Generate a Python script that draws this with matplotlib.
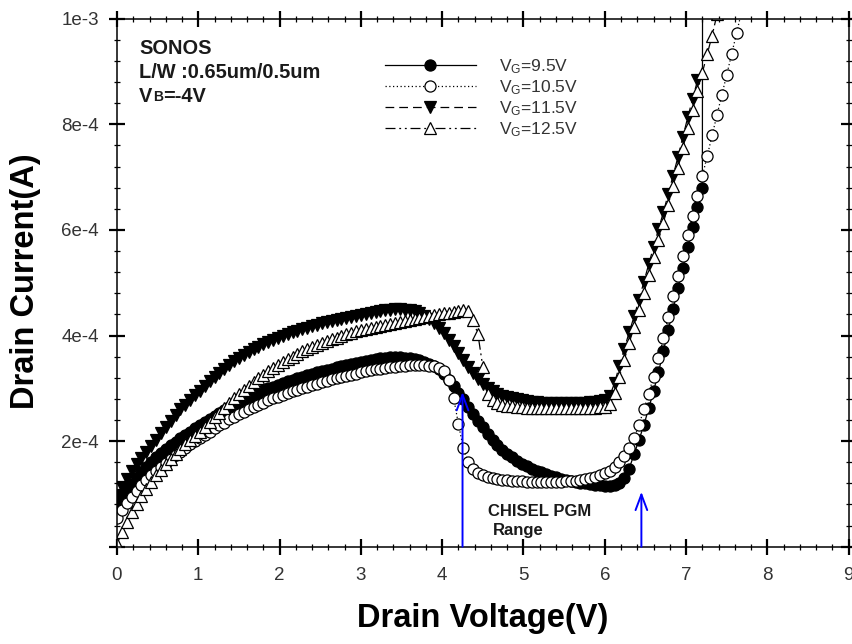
import numpy as np
import matplotlib
matplotlib.use('Agg')
import matplotlib.pyplot as plt
from matplotlib.ticker import MultipleLocator

plt.rcParams['font.family'] = ['Liberation Sans', 'DejaVu Sans']
plt.rcParams['mathtext.default'] = 'regular'

# drain sweep step (V); currents below are in units of 1e-4 A
VD_STEP = 0.06

id_vg95 = [0.78, 0.92, 1.05, 1.18, 1.30, 1.41, 1.51, 1.60, 1.69, 1.77,
           1.85, 1.92, 1.99, 2.06, 2.12, 2.18, 2.24, 2.30, 2.36, 2.42,
           2.47, 2.53, 2.58, 2.64, 2.69, 2.74, 2.79, 2.84, 2.88, 2.92,
           2.96, 3.00, 3.03, 3.07, 3.10, 3.13, 3.16, 3.19, 3.22, 3.25,
           3.28, 3.30, 3.33, 3.35, 3.37, 3.40, 3.42, 3.44, 3.46, 3.48,
           3.50, 3.52, 3.54, 3.56, 3.57, 3.58, 3.59, 3.59, 3.59, 3.58,
           3.57, 3.55, 3.53, 3.50, 3.46, 3.42, 3.36, 3.27, 3.16, 3.04,
           2.92, 2.79, 2.65, 2.52, 2.39, 2.26, 2.14, 2.03, 1.93, 1.84,
           1.76, 1.69, 1.63, 1.57, 1.53, 1.48, 1.44, 1.41, 1.37, 1.34,
           1.32, 1.29, 1.27, 1.25, 1.23, 1.21, 1.20, 1.18, 1.17, 1.16,
           1.15, 1.15, 1.16, 1.20, 1.30, 1.48, 1.75, 2.02, 2.30, 2.62,
           2.95, 3.30, 3.70, 4.10, 4.50, 4.90, 5.28, 5.67, 6.05, 6.43,
           6.80, 100.0]

id_vg105 = [0.55, 0.69, 0.82, 0.95, 1.06, 1.16, 1.26, 1.35, 1.43, 1.51,
            1.59, 1.66, 1.73, 1.80, 1.87, 1.94, 2.00, 2.06, 2.12, 2.18,
            2.24, 2.30, 2.35, 2.41, 2.46, 2.51, 2.56, 2.61, 2.65, 2.69,
            2.73, 2.77, 2.81, 2.84, 2.88, 2.91, 2.94, 2.97, 3.00, 3.03,
            3.06, 3.09, 3.12, 3.14, 3.17, 3.19, 3.22, 3.24, 3.26, 3.28,
            3.30, 3.32, 3.34, 3.36, 3.37, 3.39, 3.40, 3.41, 3.42, 3.43,
            3.44, 3.44, 3.44, 3.44, 3.43, 3.42, 3.39, 3.32, 3.15, 2.82,
            2.32, 1.86, 1.60, 1.47, 1.40, 1.35, 1.32, 1.30, 1.28, 1.27,
            1.26, 1.25, 1.24, 1.24, 1.23, 1.23, 1.23, 1.23, 1.23, 1.23,
            1.23, 1.23, 1.24, 1.24, 1.25, 1.26, 1.28, 1.30, 1.32, 1.35,
            1.39, 1.44, 1.51, 1.60, 1.72, 1.87, 2.05, 2.30, 2.60, 2.90,
            3.22, 3.57, 3.95, 4.35, 4.75, 5.13, 5.51, 5.90, 6.26, 6.64,
            7.02, 7.40, 7.79, 8.18, 8.56, 8.94, 9.33, 9.72, 10.12]

id_vg115 = [0.98, 1.14, 1.29, 1.43, 1.56, 1.68, 1.80, 1.91, 2.03, 2.15,
            2.27, 2.39, 2.50, 2.60, 2.69, 2.78, 2.87, 2.95, 3.04, 3.13,
            3.21, 3.29, 3.37, 3.44, 3.51, 3.57, 3.63, 3.69, 3.74, 3.79,
            3.84, 3.88, 3.92, 3.96, 4.00, 4.03, 4.06, 4.09, 4.12, 4.15,
            4.18, 4.20, 4.23, 4.25, 4.27, 4.29, 4.31, 4.33, 4.35, 4.37,
            4.39, 4.41, 4.43, 4.45, 4.47, 4.48, 4.49, 4.50, 4.50, 4.49,
            4.48, 4.46, 4.42, 4.37, 4.31, 4.23, 4.14, 4.04, 3.92, 3.80,
            3.67, 3.54, 3.41, 3.29, 3.18, 3.09, 3.01, 2.95, 2.90, 2.86,
            2.83, 2.81, 2.79, 2.77, 2.76, 2.75, 2.74, 2.73, 2.73, 2.72,
            2.72, 2.72, 2.72, 2.72, 2.72, 2.73, 2.73, 2.74, 2.75, 2.76,
            2.78, 2.85, 3.10, 3.43, 3.75, 4.06, 4.36, 4.68, 5.01, 5.35,
            5.68, 6.01, 6.33, 6.68, 7.03, 7.38, 7.76, 8.13, 8.48, 8.83]

id_vg125 = [0.05, 0.27, 0.47, 0.65, 0.81, 0.96, 1.10, 1.23, 1.35, 1.46,
            1.57, 1.67, 1.76, 1.85, 1.94, 2.02, 2.10, 2.18, 2.27, 2.36,
            2.45, 2.54, 2.63, 2.72, 2.81, 2.89, 2.97, 3.05, 3.12, 3.19,
            3.26, 3.32, 3.38, 3.44, 3.50, 3.55, 3.60, 3.65, 3.70, 3.74,
            3.78, 3.82, 3.86, 3.90, 3.93, 3.96, 3.99, 4.02, 4.05, 4.08,
            4.10, 4.12, 4.14, 4.16, 4.18, 4.20, 4.22, 4.24, 4.26, 4.28,
            4.30, 4.31, 4.33, 4.35, 4.37, 4.39, 4.41, 4.42, 4.43, 4.45,
            4.47, 4.49, 4.46, 4.30, 4.02, 3.40, 2.90, 2.78, 2.72, 2.69,
            2.67, 2.66, 2.65, 2.64, 2.63, 2.63, 2.62, 2.62, 2.62, 2.62,
            2.62, 2.62, 2.62, 2.62, 2.62, 2.62, 2.62, 2.63, 2.63, 2.64,
            2.65, 2.70, 2.92, 3.22, 3.54, 3.86, 4.16, 4.48, 4.81, 5.15,
            5.48, 5.81, 6.13, 6.48, 6.83, 7.18, 7.56, 7.93, 8.28, 8.63,
            8.98, 9.33, 9.68, 10.08]

gate_labels = ['V$_G$=9.5V', 'V$_G$=10.5V', 'V$_G$=11.5V', 'V$_G$=12.5V']

volt_ticks = [0, 1, 2, 3, 4, 5, 6, 7, 8, 9]
current_ticks = [0, 2e-4, 4e-4, 6e-4, 8e-4, 1e-3]
current_tick_labels = ['', '2e-4', '4e-4', '6e-4', '8e-4', '1e-3']

curve_styles = [
    dict(ls='-', marker='o', mfc='black', ms=8.0),
    dict(ls=(0, (1, 2)), marker='o', mfc='white', ms=8.0),
    dict(ls=(0, (7, 4)), marker='v', mfc='black', ms=9.0),
    dict(ls=(0, (8, 3, 1.5, 3, 1.5, 3)), marker='^', mfc='white', ms=9.0),
]

fig = plt.figure(figsize=(8.53, 6.44), dpi=100)
ax = fig.add_axes([117 / 853, 97.3 / 644, 731.7 / 853, 528 / 644])

for ids, label, st in zip([id_vg95, id_vg105, id_vg115, id_vg125], gate_labels, curve_styles):
    vd = np.arange(len(ids)) * VD_STEP
    ax.plot(vd, np.array(ids) * 1e-4, color='black', lw=0.9, mec='black',
            mew=0.9, label=label, **st)

ax.set_xlim(0, 9)
ax.set_ylim(0, 1e-3)
ax.set_xticks(volt_ticks, [str(v) for v in volt_ticks])
ax.set_yticks(current_ticks, current_tick_labels)
ax.xaxis.set_minor_locator(MultipleLocator(0.2))
ax.yaxis.set_minor_locator(MultipleLocator(0.4e-4))
ax.tick_params(which='both', direction='inout', top=True, right=True)
ax.tick_params(which='major', length=12, width=1.6, pad=8.5,
               labelsize=13.5, labelcolor='#333333')
ax.tick_params(axis='y', which='major', pad=7)
ax.tick_params(which='minor', length=5, width=0.9)
for sp in ax.spines.values():
    sp.set_linewidth(1.1)

fig.text(482.5 / 853, 25.5 / 644, 'Drain Voltage(V)', ha='center', va='center',
         fontsize=23.5, fontweight='bold')
fig.text(25.5 / 853, (644 - 281.5) / 644, 'Drain Current(A)', rotation=90,
         ha='center', va='center', fontsize=23.5, fontweight='bold')

# device info block; the small "B" sits on the same baseline as "V"
info_kw = dict(fontsize=14.4, fontweight='bold', color='#1a1a1a')
ax.text(0.030, 0.934, 'SONOS', transform=ax.transAxes, **info_kw)
ax.text(0.030, 0.888, 'L/W :0.65um/0.5um', transform=ax.transAxes, **info_kw)
tv = ax.text(0.030, 0.843, 'V', transform=ax.transAxes, **info_kw)
tb = ax.annotate('B', xy=(1, 0), xycoords=tv, xytext=(0.5, 3.0),
                 textcoords='offset points', va='baseline', fontsize=10,
                 fontweight='bold', color='#1a1a1a')
ax.annotate('=-4V', xy=(1, 0), xycoords=tb, xytext=(0, 2.1),
            textcoords='offset points', va='baseline', **info_kw)

leg = ax.legend(loc='upper left', bbox_to_anchor=(0.366, 0.927), frameon=False,
                fontsize=12.5, handlelength=5.25, handletextpad=1.3,
                labelspacing=0.135, borderpad=0, borderaxespad=0, numpoints=1)
for txt in leg.get_texts():
    txt.set_color('#333333')

# programming window markers
arrow_kw = dict(arrowstyle='->, head_length=0.8, head_width=0.3', color='blue',
                lw=1.4, mutation_scale=14, shrinkA=0, shrinkB=0)
ax.annotate('', xy=(4.25, 2.93e-4), xytext=(4.25, 0), arrowprops=arrow_kw)
ax.annotate('', xy=(6.45, 1.04e-4), xytext=(6.45, 0), arrowprops=arrow_kw)
ax.text(4.56, 0.58e-4, 'CHISEL PGM', fontsize=12, fontweight='bold', color='#1a1a1a')
ax.text(4.62, 0.22e-4, 'Range', fontsize=12, fontweight='bold', color='#1a1a1a')

fig.savefig('out.png', dpi=100)
